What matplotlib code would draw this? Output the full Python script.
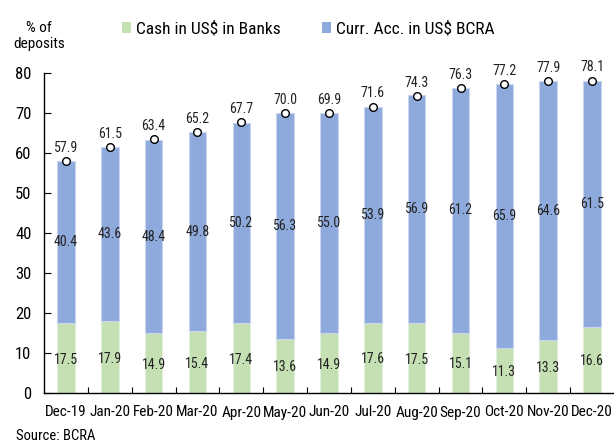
import matplotlib
matplotlib.use("Agg")
import matplotlib.pyplot as plt
import numpy as np
from matplotlib.patches import Patch

plt.rcParams['font.family'] = ['Roboto Condensed', 'Roboto', 'DejaVu Sans']

months = ["Dec-19", "Jan-20", "Feb-20", "Mar-20", "Apr-20", "May-20", "Jun-20",
          "Jul-20", "Aug-20", "Sep-20", "Oct-20", "Nov-20", "Dec-20"]
cash_banks = [17.5, 17.9, 14.9, 15.4, 17.4, 13.6, 14.9, 17.6, 17.5, 15.1, 11.3, 13.3, 16.6]
curr_acc_bcra = [40.4, 43.6, 48.4, 49.8, 50.2, 56.3, 55.0, 53.9, 56.9, 61.2, 65.9, 64.6, 61.5]
totals = [57.9, 61.5, 63.4, 65.2, 67.7, 70.0, 69.9, 71.6, 74.3, 76.3, 77.2, 77.9, 78.1]

green = "#C5E0B3"
blue = "#8EA9DB"

fig = plt.figure(figsize=(6.14, 4.43), dpi=100)
ax = fig.add_axes([44/614, 50/443, 1 - 44/614, 320/443])

x = np.arange(len(months))
w = 0.4
ax.bar(x, cash_banks, width=w, color=green, edgecolor="#E2EFD9", linewidth=0.8)
ax.bar(x, curr_acc_bcra, width=w, bottom=cash_banks, color=blue, edgecolor="#C9D6EE", linewidth=0.8)
ax.plot(x, totals, linestyle="none", marker="o", markersize=5.5,
        markerfacecolor="white", markeredgecolor="black", markeredgewidth=1.0, zorder=5)

for i in range(len(months)):
    ax.text(x[i], cash_banks[i] / 2 - 0.4, f"{cash_banks[i]:.1f}", ha="center", va="center",
            fontsize=10, color="#222222")
    ax.text(x[i], cash_banks[i] + curr_acc_bcra[i] / 2, f"{curr_acc_bcra[i]:.1f}", ha="center",
            va="center", fontsize=10, color="#222222")
    ax.annotate(f"{totals[i]:.1f}", (x[i], totals[i]), xytext=(0, 4.5), textcoords="offset points",
                ha="center", va="bottom", fontsize=10, color="#222222")

ax.set_xlim(-0.5, len(months) - 0.5)
ax.set_ylim(0, 80)
ax.set_yticks(range(0, 81, 10))
ax.set_xticks(x)
ax.set_xticklabels(months, fontsize=11)
ax.set_xticks(np.arange(0.5, len(months) - 0.5, 1), minor=True)
ax.tick_params(axis="x", which="major", length=0, pad=9)
ax.tick_params(axis="x", which="minor", direction="in", length=4, width=0.8)
ax.tick_params(axis="y", direction="in", length=5, width=0.8, labelsize=12, pad=9)
for s in ["top", "right"]:
    ax.spines[s].set_visible(False)
for s in ["left", "bottom"]:
    ax.spines[s].set_linewidth(1.0)
    ax.spines[s].set_color("black")

fig.text(39/614, 1 - 36/443, "% of\ndeposits", ha="center", va="center", fontsize=11,
         linespacing=1.15)

handles = [Patch(facecolor=green, label="Cash in US$ in Banks"),
           Patch(facecolor=blue, label="Curr. Acc. in US$ BCRA")]
fig.legend(handles=handles, loc="center left", bbox_to_anchor=(106/614, 1 - 29/443), ncol=2,
           frameon=False, fontsize=12.5, handlelength=0.55, handleheight=0.55, handletextpad=0.25,
           columnspacing=2.4)

fig.text(16/614, 1 - 436/443, "Source: BCRA", ha="left", va="center", fontsize=10.5)

fig.savefig("out.png", dpi=100)
